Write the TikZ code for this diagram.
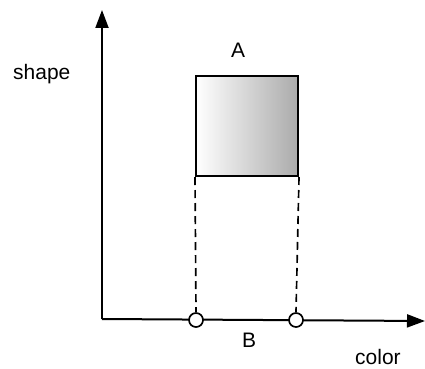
\documentclass[tikz,border=0pt]{standalone}
\usepackage{fontspec}
\setmainfont{Liberation Sans}
\usetikzlibrary{arrows.meta, positioning}

\begin{document}
\begin{tikzpicture}[
    x=0.03cm, y=-0.03cm,
    axis/.style={line width=0.06cm, -{Triangle[length=0.54cm, width=0.39cm]}},
    box/.style={rectangle, draw, line width=0.06cm, minimum width=3.06cm, minimum height=3cm, shading=axis, left color=white, right color=black!33},
    guide/.style={line width=0.05cm, dash pattern=on 0.24cm off 0.15cm},
    tick/.style={circle, draw, fill=white, line width=0.05cm, minimum size=0.42cm, inner sep=0pt},
    label/.style={inner sep=0pt, font=\fontsize{17.9}{20}\selectfont}
]
\useasboundingbox (0,0) rectangle (425,369);
\coordinate (origin) at (102,319);
\coordinate (ytop)   at (102,10);
\coordinate (xend)   at (425,321);
\draw[axis] (origin) -- (ytop);
\draw[axis] (origin) -- (xend);
\node[box] (A) at (247,126) {};
\node[tick] (b1) at (196,320) {};
\node[tick] (b2) at (296,320) {};
\draw[guide] (A.south west) -- (b1.north);
\draw[guide] (A.south east) -- (b2.north);
\node[label, anchor=base] (la) at (238,58) {A};
\node[label, anchor=base] (lb) at (249,347) {B};
\node[label, anchor=base west] (shape) at (13,80) {shape};
\node[label, anchor=base west] (color) at (355,364) {color};
\end{tikzpicture}
\end{document}
